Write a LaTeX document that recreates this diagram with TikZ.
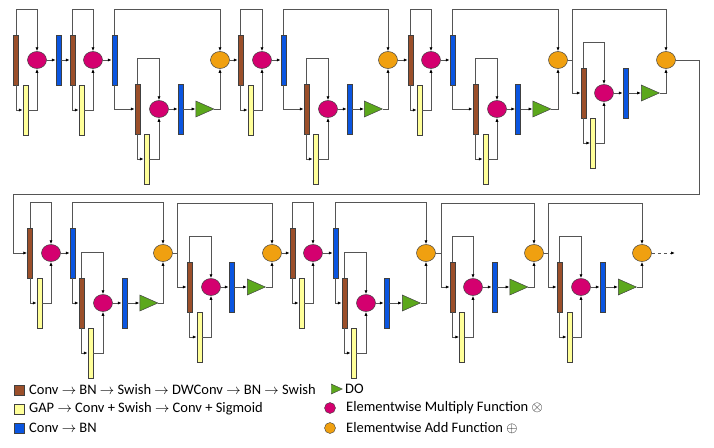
\documentclass[tikz,border=0pt]{standalone}
\usepackage{fontspec}
\setmainfont{Carlito}
\usetikzlibrary{shapes.geometric,arrows.meta}
\definecolor{cbrown}{HTML}{9B4F2A}
\definecolor{cyel}{HTML}{FFFF99}
\definecolor{cblue}{HTML}{0A55E0}
\definecolor{cmag}{HTML}{D4006F}
\definecolor{corange}{HTML}{F0A010}
\definecolor{cgreen}{HTML}{5CA81C}
\definecolor{cline}{HTML}{555555}
\tikzset{
  bar/.style={rectangle, draw=black!75, line width=0.5pt, inner sep=0pt, minimum width=5pt, minimum height=50pt},
  brownbar/.style={bar, fill=cbrown},
  yelbar/.style={bar, fill=cyel},
  bluebar/.style={bar, fill=cblue},
  multc/.style={ellipse, draw=black!75, line width=0.5pt, fill=cmag, inner sep=0pt, minimum width=19pt, minimum height=17pt},
  addc/.style={ellipse, draw=black!75, line width=0.5pt, fill=corange, inner sep=0pt, minimum width=19pt, minimum height=17pt},
  dropt/.style={isosceles triangle, isosceles triangle stretches, shape border rotate=0, draw=black!75, line width=0.5pt, fill=cgreen, inner sep=0pt, minimum width=16pt, minimum height=18pt},
  conn/.style={draw=cline, line width=0.8pt, -{Latex[length=4pt,width=3.2pt,black]}},
  plain/.style={draw=cline, line width=0.8pt},
  legtext/.style={anchor=west, inner sep=0pt, font=\fontsize{14.5}{17}\selectfont}
}
% #1 name, #2 x brown, #3 y centre, #4 x yellow, #5 x circle, #6 x blue
\newcommand{\seunit}[6]{%
  \node[brownbar] (#1b) at (#2,#3) {};
  \node[yelbar] (#1y) at (#4,#3+50) {};
  \node[multc] (#1m) at (#5,#3) {};
  \node[bluebar] (#1l) at (#6,#3) {};
  \draw[conn] (#1b.north) -- ++(0,-25) -| (#1m.north);
  \draw[conn] (#1b.south) |- (#1y.west);
  \draw[conn] (#1y.east) -| (#1m.south);
  \draw[conn] (#1m) -- (#1l);
}
\begin{document}
\begin{tikzpicture}[x=1pt,y=-1pt]
\useasboundingbox (0,0) rectangle (714,447);
% ---------------- top row ----------------
\seunit{ua}{16}{60}{25.5}{37}{58.5}
\seunit{ub}{72.5}{60}{81.5}{93}{114.5}
\draw[conn] (ual) -- (ubb);
\seunit{uc}{137.5}{109}{146.5}{159}{180.5}
\node[dropt] (tc) at (201,109) {};
\node[addc] (aa) at (220,60) {};
\draw[conn] (ubl.north) -- ++(0,-25) -| (aa.north);
\draw[conn] (ubl.south) |- (ucb.west);
\draw[conn] (ucl) -- (tc);
\draw[conn] (tc.apex) -| (aa.south);

\seunit{ud}{240.5}{60}{250.5}{262}{283.5}
\draw[conn] (aa) -- (udb);
\seunit{ue}{306.5}{109}{315.5}{328}{349.5}
\node[dropt] (te) at (369.5,109) {};
\node[addc] (ab) at (388,60) {};
\draw[conn] (udl.north) -- ++(0,-25) -| (ab.north);
\draw[conn] (udl.south) |- (ueb.west);
\draw[conn] (uel) -- (te);
\draw[conn] (te.apex) -| (ab.south);

\seunit{uf}{410.5}{60}{419.5}{431}{452.5}
\draw[conn] (ab) -- (ufb);
\seunit{ug}{475.5}{109}{485.5}{497}{518}
\node[dropt] (tg) at (538,109) {};
\node[addc] (ac) at (558,60) {};
\draw[conn] (ufl.north) -- ++(0,-25) -| (ac.north);
\draw[conn] (ufl.south) |- (ugb.west);
\draw[conn] (ugl) -- (tg);
\draw[conn] (tg.apex) -| (ac.south);

\seunit{uh}{583.5}{93}{593}{604}{625.5}
\node[dropt] (th) at (646.5,93) {};
\node[addc] (ad) at (666,60) {};
\draw[plain] (ac.east) -- ++(4.5,0) coordinate (jc);
\draw[conn] (jc) |- (uhb.west);
\draw[conn] (jc) -- ++(0,-51) -| (ad.north);
\draw[conn] (uhl) -- (th);
\draw[conn] (th.apex) -| (ad.south);

% loop to second row
\coordinate (lr) at (699,194);
\coordinate (ll) at (13,194);
\seunit{ui}{30}{253}{39.5}{51}{72.5}
\draw[conn] (ad.east) -| (lr) -- (ll) |- (uib.west);

% ---------------- bottom row ----------------
\seunit{uj}{81.5}{303}{90.5}{103}{124.5}
\node[dropt] (tj) at (145,303) {};
\node[addc] (ae) at (163,253) {};
\draw[conn] (uil.north) -- ++(0,-25) -| (ae.north);
\draw[conn] (uil.south) |- (ujb.west);
\draw[conn] (ujl) -- (tj);
\draw[conn] (tj.apex) -| (ae.south);

\seunit{uk}{189.5}{287}{199.5}{211}{231.5}
\node[dropt] (tk) at (252.5,287) {};
\node[addc] (af) at (272,253) {};
\draw[plain] (ae.east) -- ++(4.5,0) coordinate (je);
\draw[conn] (je) |- (ukb.west);
\draw[conn] (je) -- ++(0,-50) -| (af.north);
\draw[conn] (ukl) -- (tk);
\draw[conn] (tk.apex) -| (af.south);

\seunit{ul}{292.5}{253}{301.5}{313}{335.5}
\draw[conn] (af) -- (ulb);
\seunit{um}{344.5}{303}{353.5}{366}{386.5}
\node[dropt] (tm) at (407.5,303) {};
\node[addc] (ag) at (426,253) {};
\draw[conn] (ull.north) -- ++(0,-25) -| (ag.north);
\draw[conn] (ull.south) |- (umb.west);
\draw[conn] (uml) -- (tm);
\draw[conn] (tm.apex) -| (ag.south);

\seunit{un}{452.5}{287}{462}{473}{494.5}
\node[dropt] (tn) at (515,287) {};
\node[addc] (ah) at (534,253) {};
\draw[plain] (ag.east) -- ++(5.5,0) coordinate (jg);
\draw[conn] (jg) |- (unb.west);
\draw[conn] (jg) -- ++(0,-50) -| (ah.north);
\draw[conn] (unl) -- (tn);
\draw[conn] (tn.apex) -| (ah.south);

\seunit{uo}{559.5}{287}{569.5}{581}{602.5}
\node[dropt] (to) at (623.5,287) {};
\node[addc] (ai) at (642,253) {};
\draw[plain] (ah.east) -- ++(4.5,0) coordinate (jh);
\draw[conn] (jh) |- (uob.west);
\draw[conn] (jh) -- ++(0,-50) -| (ai.north);
\draw[conn] (uol) -- (to);
\draw[conn] (to.apex) -| (ai.south);
\coordinate (outend) at (675,253);
\draw[conn, dashed] (ai.east) -- (outend);

% ---------------- legend ----------------
\node[rectangle, draw=black!75, fill=cbrown, minimum size=10pt, inner sep=0pt] (lgb) at (19.5,390) {};
\node[legtext] (lgbt) at (29,390) {Conv $\rightarrow$ BN $\rightarrow$ Swish $\rightarrow$ DWConv $\rightarrow$ BN $\rightarrow$ Swish};
\node[rectangle, draw=black!75, fill=cyel, minimum size=10pt, inner sep=0pt] (lgy) at (19.5,409) {};
\node[legtext] (lgyt) at (29,409) {GAP $\rightarrow$ Conv + Swish $\rightarrow$ Conv + Sigmoid};
\node[rectangle, draw=black!75, fill=cblue, minimum size=10pt, inner sep=0pt] (lgl) at (19.5,428) {};
\node[legtext] (lglt) at (29,428) {Conv $\rightarrow$ BN};
\node[isosceles triangle, isosceles triangle stretches, shape border rotate=0, draw=black!75, fill=cgreen, inner sep=0pt, minimum width=10pt, minimum height=11pt] (lgt) at (334.5,389) {};
\node[legtext] (lgtt) at (345,389) {DO};
\node[ellipse, draw=black!75, fill=cmag, inner sep=0pt, minimum width=11pt, minimum height=11pt] (lgm) at (330,408) {};
\node[legtext] (lgmt) at (346,408) {Elementwise Multiply Function $\otimes$};
\node[ellipse, draw=black!75, fill=corange, inner sep=0pt, minimum width=11pt, minimum height=11pt] (lga) at (330,428) {};
\node[legtext] (lgat) at (346,428) {Elementwise Add Function $\oplus$};
\end{tikzpicture}
\end{document}
